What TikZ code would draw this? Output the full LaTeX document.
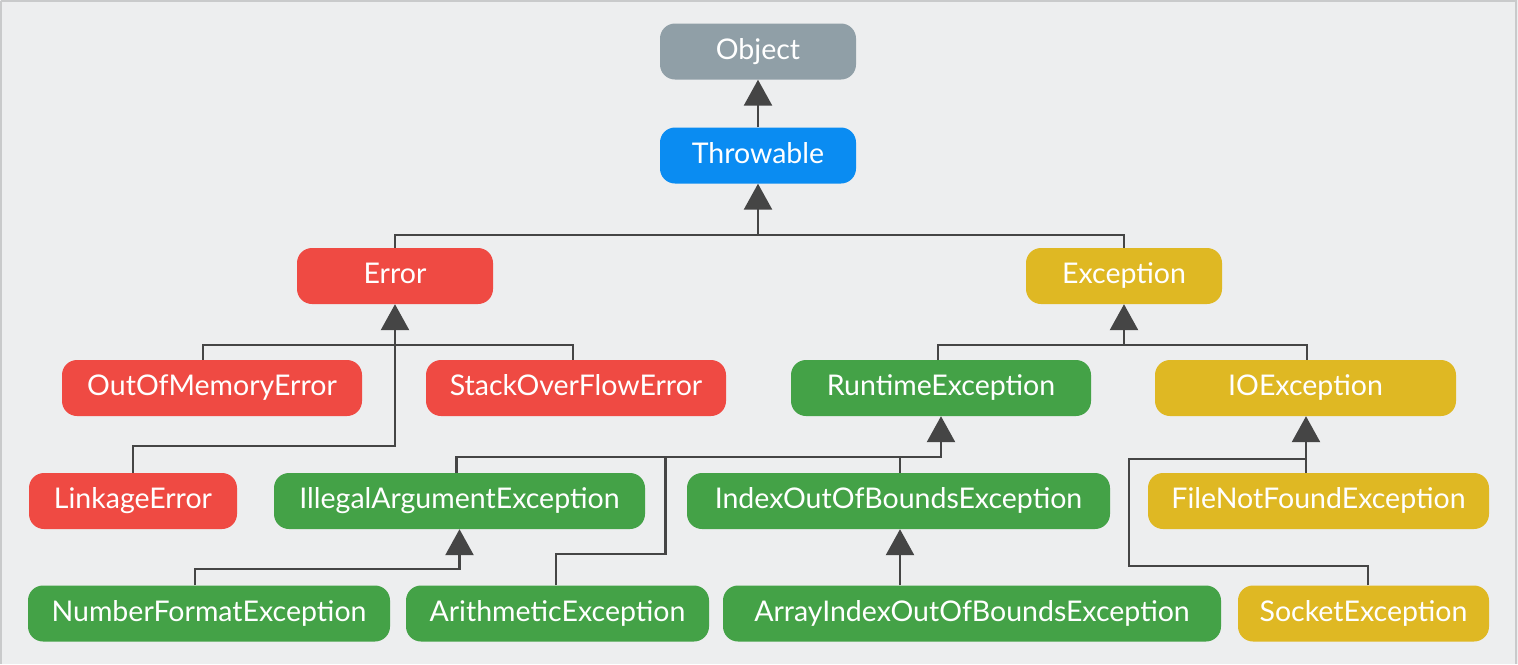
\documentclass[tikz,border=0pt]{standalone}
\usepackage{fontspec}
\setmainfont{Lato}
\usetikzlibrary{arrows.meta}
\definecolor{bg}{HTML}{EDEEEF}
\definecolor{frame}{HTML}{C9CACB}
\definecolor{cobj}{HTML}{909FA7}
\definecolor{cthr}{HTML}{0A8CF2}
\definecolor{cerr}{HTML}{EF4A43}
\definecolor{cexc}{HTML}{DFB823}
\definecolor{cgrn}{HTML}{44A247}
\definecolor{cline}{HTML}{454545}
\tikzset{
  box/.style={rounded corners=15pt, inner sep=0pt, minimum height=56pt,
    text=white, font=\fontsize{28.5}{32}\selectfont, anchor=center,
    text height=20pt, text depth=5pt},
  conn/.style={draw=cline, line width=2.6pt},
  arr/.style={conn, -{Triangle[width=28pt,length=26pt]}},
}
\begin{document}
\begin{tikzpicture}[x=1pt,y=-1pt]
\fill[bg] (0,0) rectangle (1518,664);
\draw[frame, line width=2pt] (1,1) -- (1517,1);
\draw[frame, line width=1.5pt] (1,1) -- (1,664);
\draw[frame, line width=1.5pt] (1516,1) -- (1516,664);
\useasboundingbox (0,0) rectangle (1518,664);

% nodes
\node[box, fill=cobj, minimum width=196pt] (object) at (758,51.5) {Object};
\node[box, fill=cthr, minimum width=196pt] (throwable) at (758,155.5) {Throwable};
\node[box, fill=cerr, minimum width=196pt] (error) at (395,276) {Error};
\node[box, fill=cexc, minimum width=196pt] (exception) at (1124,276) {Exception};

\node[box, fill=cerr, minimum width=300pt] (oom) at (212,388) {OutOfMemoryError};
\node[box, fill=cerr, minimum width=300pt] (so) at (576,388) {StackOverFlowError};
\node[box, fill=cgrn, minimum width=300pt] (runtime) at (941,388) {RuntimeException};
\node[box, fill=cexc, minimum width=301pt] (io) at (1305.5,388) {IOException};

\node[box, fill=cerr, minimum width=208pt] (linkage) at (133,501) {LinkageError};
\node[box, fill=cgrn, minimum width=371pt] (illegal) at (459.5,501) {IllegalArgumentException};
\node[box, fill=cgrn, minimum width=423pt] (index) at (898.5,501) {IndexOutOfBoundsException};
\node[box, fill=cexc, minimum width=341pt] (fnf) at (1318.5,501) {FileNotFoundException};

\node[box, fill=cgrn, minimum width=362pt] (numfmt) at (209,613.5) {NumberFormatException};
\node[box, fill=cgrn, minimum width=303pt] (arith) at (557.5,613.5) {ArithmeticException};
\node[box, fill=cgrn, minimum width=498pt] (arrayidx) at (972,613.5) {ArrayIndexOutOfBoundsException};
\node[box, fill=cexc, minimum width=251pt] (socket) at (1363.5,613.5) {SocketException};

% junction points
\coordinate (tbus) at (758,235);
\coordinate (ebus) at (395,345);
\coordinate (elink) at (395,446);
\coordinate (xbus) at (1124,345);
\coordinate (rbus) at (941,457);
\coordinate (arithbend) at (665.5,554);
\coordinate (ibus) at (459.5,569);
\coordinate (iobus) at (1306,459);
\coordinate (sockbend) at (1129,566);

% connectors
\draw[arr] (throwable.north) -- (object.south);
\draw[conn] (error.north) |- (tbus);
\draw[conn] (exception.north) |- (tbus);
\draw[arr] (tbus) -- (throwable.south);

\draw[conn] ([xshift=-9pt]oom.north) |- (ebus);
\draw[conn] ([xshift=-3pt]so.north) |- (ebus);
\draw[arr] (linkage.north) |- (elink) -- (error.south);

\draw[conn] ([xshift=-3pt]runtime.north) |- (xbus);
\draw[conn] ([xshift=1.5pt]io.north) |- (xbus);
\draw[arr] (xbus) -- (exception.south);

\draw[conn] (index.north -| 900,0) |- (rbus);
\draw[conn] ([xshift=-1.5pt]arith.north) |- (arithbend) |- (rbus);
\draw[arr] ([xshift=-3pt]illegal.north) |- (rbus) -- (runtime.south);

\draw[arr] ([xshift=-14pt]numfmt.north) |- (ibus) -- (illegal.south);
\draw[arr] (arrayidx.north -| 900,0) -- (index.south -| 900,0);

\draw[conn] ([xshift=4.5pt]socket.north) |- (sockbend) |- (iobus);
\draw[arr] (fnf.north -| iobus) -- (io.south -| iobus);
\end{tikzpicture}
\end{document}
